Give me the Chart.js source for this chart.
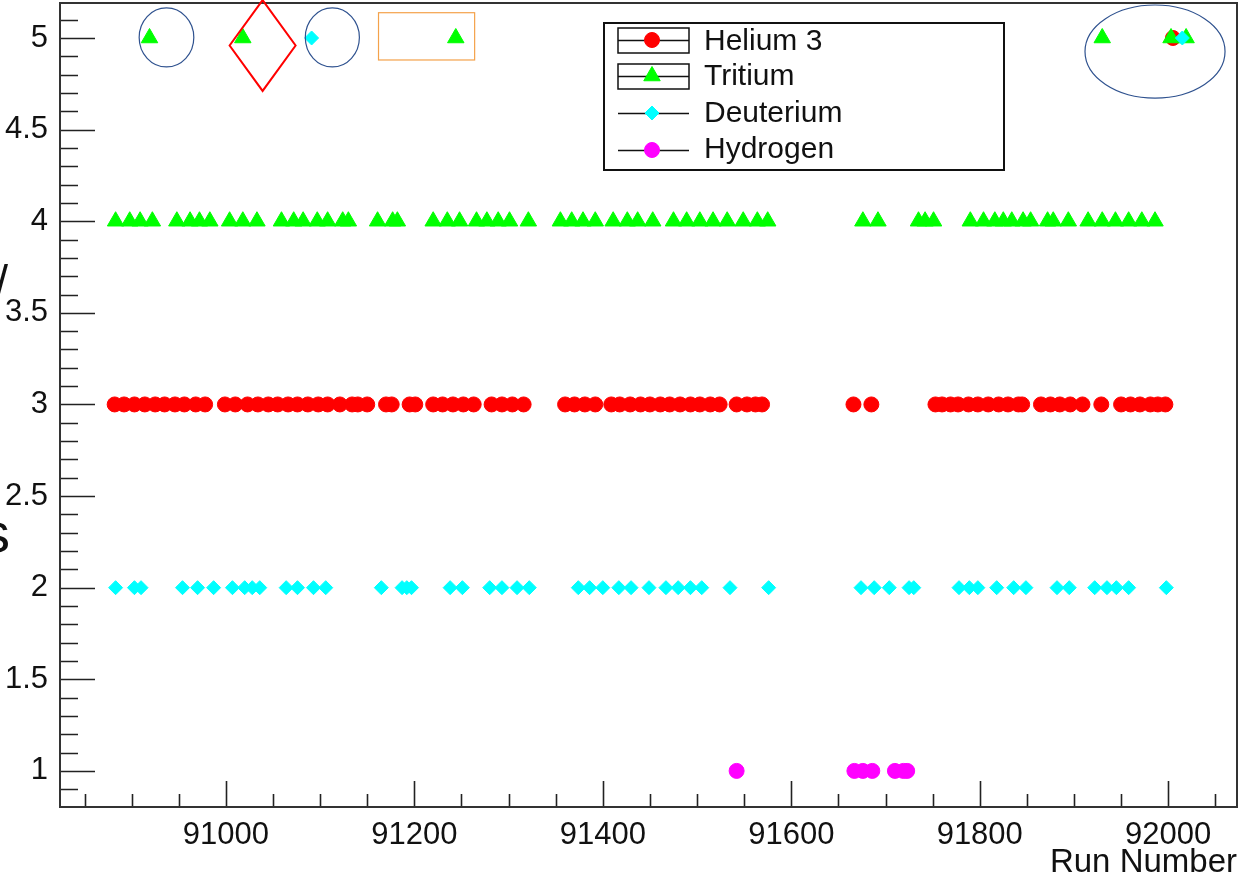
<!DOCTYPE html>
<html>
<head>
<meta charset="utf-8">
<script src="https://cdn.jsdelivr.net/npm/chart.js@4.4.1/dist/chart.umd.min.js"></script>
<style>
  html, body { margin: 0; padding: 0; background: #fff; }
  #wrap { width: 1240px; height: 880px; }
</style>
</head>
<body>
<div id="wrap"><canvas id="c" width="1240" height="880"></canvas></div>
<script>
// run numbers, grouped by the value plotted for each target
const he3RunsAt3 = [
  90882, 90892, 90903, 90914, 90925, 90935, 90946, 90956, 90968, 90978,
  90999, 91010, 91023, 91034, 91045, 91055, 91066, 91076, 91087, 91098, 91108, 91121, 91134, 91140, 91150,
  91170, 91176, 91195, 91201,
  91220, 91230, 91241, 91252, 91263,
  91282, 91293, 91304, 91316,
  91360, 91370, 91381, 91392,
  91409, 91418, 91429, 91440, 91450, 91461, 91471, 91482, 91493, 91503, 91514, 91524,
  91542, 91553, 91562, 91569,
  91666, 91685,
  91753, 91760, 91769, 91777, 91788, 91798, 91809, 91820, 91830, 91841, 91845,
  91865, 91875, 91885, 91896, 91909,
  91929,
  91950, 91960, 91970, 91981, 91989, 91997
];
const he3RunsAt5 = [92005];

const tritiumRunsAt4 = [
  90883, 90898, 90909, 90922, 90948, 90962, 90972, 90983, 91004, 91018, 91033,
  91059, 91072, 91082, 91097, 91108, 91124, 91130, 91161, 91177, 91182,
  91220, 91235, 91248, 91266, 91277, 91289, 91301, 91321,
  91355, 91367, 91379, 91392, 91411, 91426, 91437, 91453,
  91475, 91489, 91503, 91517, 91532, 91549, 91564, 91575,
  91676, 91692, 91735, 91742, 91751,
  91790, 91804, 91816, 91825, 91834, 91846, 91854, 91872, 91878, 91894,
  91915, 91930, 91944, 91958, 91972, 91986
];
const tritiumRunsAt5 = [90919, 91018, 91244, 91930, 92003, 92019];

const deutRunsAt2 = [
  90883, 90903, 90910, 90954, 90970, 90987, 91007, 91020, 91028, 91036,
  91064, 91076, 91093, 91106, 91165, 91187, 91192, 91197, 91238, 91251,
  91280, 91293, 91309, 91322, 91374, 91386, 91400, 91417, 91430, 91449,
  91467, 91480, 91493, 91505, 91535, 91576, 91674, 91688, 91704, 91725, 91730,
  91778, 91789, 91798, 91818, 91836, 91849, 91882, 91895, 91922, 91935,
  91945, 91958, 91998
];
const deutRunsAt5 = [91091, 92015];

const hydRunsAt1 = [91542, 91667, 91676, 91686, 91710, 91719, 91723];

const xTickValues = [91000, 91200, 91400, 91600, 91800, 92000];
const yTickValues = [1, 1.5, 2, 2.5, 3, 3.5, 4, 4.5, 5];

// highlight shapes drawn on top, in data units
const ellipses = [
  { cx: 90937, cy: 5.003, rx: 29, ry: 0.161 },
  { cx: 91113, cy: 5.003, rx: 28.7, ry: 0.161 },
  { cx: 91986, cy: 4.926, rx: 74.3, ry: 0.254 }
];
const diamond = { cx: 91039, cy: 4.959, hw: 35, hh: 0.248 };
const box = { x0: 91162, x1: 91264, y0: 4.88, y1: 5.138 };

const FONT = '"Liberation Sans", Arial, Helvetica, sans-serif';

function pts(runs, val) {
  return runs.map(r => ({ x: r, y: val }));
}

const datasets = [
  { label: 'Helium 3', data: pts(he3RunsAt3, 3).concat(pts(he3RunsAt5, 5)),
    pointStyle: 'circle', radius: 7.5, color: '#ff0000', boxed: true, order: 4 },
  { label: 'Tritium', data: pts(tritiumRunsAt4, 4).concat(pts(tritiumRunsAt5, 5)),
    pointStyle: 'triangle', radius: 9.5, color: '#00ff00', boxed: true, order: 3 },
  { label: 'Deuterium', data: pts(deutRunsAt2, 2).concat(pts(deutRunsAt5, 5)),
    pointStyle: 'rectRot', radius: 7, color: '#00ffff', boxed: false, order: 2 },
  { label: 'Hydrogen', data: pts(hydRunsAt1, 1),
    pointStyle: 'circle', radius: 7.5, color: '#ff00ff', boxed: false, order: 1 }
].map(d => ({
  label: d.label,
  data: d.data,
  order: d.order,
  showLine: false,
  pointStyle: d.pointStyle,
  pointRadius: d.radius,
  pointBackgroundColor: d.color,
  pointBorderColor: d.color,
  pointBorderWidth: 1,
  boxed: d.boxed
}));

// ROOT-like frame with inward major/minor ticks
const frameTicks = {
  id: 'frameTicks',
  afterDatasetsDraw(chart) {
    const { ctx, chartArea: a, scales: { x, y } } = chart;
    ctx.save();
    ctx.strokeStyle = '#222';
    ctx.lineWidth = 1.6;
    ctx.beginPath();
    for (let v = 90850; v <= 92050; v += 50) {
      const px = Math.round(x.getPixelForValue(v)) + 0.5;
      const len = xTickValues.includes(v) ? 26 : 13;
      ctx.moveTo(px, a.bottom);
      ctx.lineTo(px, a.bottom - len);
    }
    for (let i = 9; i <= 51; i++) {
      const v = i / 10;
      const py = Math.round(y.getPixelForValue(v)) + 0.5;
      const len = i % 5 === 0 ? 35 : 18;
      ctx.moveTo(a.left, py);
      ctx.lineTo(a.left + len, py);
    }
    ctx.stroke();
    ctx.lineWidth = 2;
    ctx.strokeStyle = '#333';
    ctx.strokeRect(a.left, a.top, a.right - a.left, a.bottom - a.top);
    ctx.restore();
  }
};

const highlights = {
  id: 'highlights',
  afterDatasetsDraw(chart) {
    const { ctx, scales: { x, y } } = chart;
    ctx.save();
    ctx.lineWidth = 1.2;
    ctx.strokeStyle = '#2f528f';
    ellipses.forEach(e => {
      const cx = x.getPixelForValue(e.cx), cy = y.getPixelForValue(e.cy);
      const rx = x.getPixelForValue(e.cx + e.rx) - cx;
      const ry = cy - y.getPixelForValue(e.cy + e.ry);
      ctx.beginPath();
      ctx.ellipse(cx, cy, rx, ry, 0, 0, Math.PI * 2);
      ctx.stroke();
    });
    ctx.strokeStyle = '#ff0000';
    ctx.lineWidth = 2;
    ctx.beginPath();
    ctx.moveTo(x.getPixelForValue(diamond.cx), y.getPixelForValue(diamond.cy + diamond.hh));
    ctx.lineTo(x.getPixelForValue(diamond.cx + diamond.hw), y.getPixelForValue(diamond.cy));
    ctx.lineTo(x.getPixelForValue(diamond.cx), y.getPixelForValue(diamond.cy - diamond.hh));
    ctx.lineTo(x.getPixelForValue(diamond.cx - diamond.hw), y.getPixelForValue(diamond.cy));
    ctx.closePath();
    ctx.stroke();
    ctx.strokeStyle = '#f4a24a';
    ctx.lineWidth = 1.2;
    const bx = x.getPixelForValue(box.x0), by = y.getPixelForValue(box.y1);
    ctx.strokeRect(bx, by, x.getPixelForValue(box.x1) - bx, y.getPixelForValue(box.y0) - by);
    ctx.restore();
  }
};

const legendBox = {
  id: 'legendBox',
  afterDraw(chart) {
    const ctx = chart.ctx;
    const L = 604, T = 23, W = 400, H = 147;
    const rows = [40, 76, 113, 150];
    const base = [50, 85, 122, 158];
    ctx.save();
    ctx.fillStyle = '#fff';
    ctx.fillRect(L, T, W, H);
    ctx.strokeStyle = '#111';
    ctx.lineWidth = 2;
    ctx.strokeRect(L, T, W, H);
    chart.data.datasets.forEach((ds, i) => {
      const cy = rows[i];
      ctx.strokeStyle = '#111';
      ctx.lineWidth = 1.5;
      if (ds.boxed) ctx.strokeRect(618, cy - 12, 71, 25);
      ctx.beginPath();
      ctx.moveTo(618, cy + 0.5);
      ctx.lineTo(689, cy + 0.5);
      ctx.stroke();
      ctx.fillStyle = ds.pointBackgroundColor;
      ctx.strokeStyle = ds.pointBorderColor;
      ctx.lineWidth = 1;
      Chart.helpers.drawPoint(ctx, {
        pointStyle: ds.pointStyle, radius: ds.pointRadius, rotation: 0, borderWidth: 1
      }, 652, cy);
      ctx.fillStyle = '#111';
      ctx.font = '30px ' + FONT;
      ctx.textAlign = 'left';
      ctx.textBaseline = 'alphabetic';
      ctx.fillText(ds.label, 704, base[i]);
    });
    ctx.restore();
  }
};

// fragments of text cut off at the left edge of the picture
const edgeText = {
  id: 'edgeText',
  afterDraw(chart) {
    const ctx = chart.ctx;
    ctx.save();
    ctx.fillStyle = '#111';
    ctx.textAlign = 'right';
    ctx.textBaseline = 'alphabetic';
    ctx.font = '46px ' + FONT;
    ctx.fillText('/', 8, 298);
    ctx.font = '56px ' + FONT;
    ctx.fillText('s', 10, 552);
    ctx.restore();
  }
};

new Chart(document.getElementById('c'), {
  type: 'scatter',
  data: { datasets },
  options: {
    responsive: false,
    animation: false,
    devicePixelRatio: 1,
    layout: { autoPadding: false, padding: { top: 3, right: 3, left: 0, bottom: 0 } },
    plugins: { legend: { display: false }, tooltip: { enabled: false } },
    scales: {
      x: {
        type: 'linear',
        min: 90824,
        max: 92073,
        grid: { display: false, drawTicks: false },
        border: { display: false },
        afterBuildTicks: s => { s.ticks = xTickValues.map(v => ({ value: v })); },
        afterFit: s => { s.height = 73; s.paddingLeft = 0; s.paddingRight = 0; },
        ticks: {
          font: { family: FONT, size: 31 },
          color: '#111',
          padding: 10,
          maxRotation: 0,
          autoSkip: false,
          callback: v => String(v)
        },
        title: {
          display: true,
          text: 'Run Number',
          align: 'end',
          color: '#111',
          font: { family: FONT, size: 33, lineHeight: 1.05 },
          padding: { top: 0, bottom: 0 }
        }
      },
      y: {
        type: 'linear',
        min: 0.803,
        max: 5.191,
        grid: { display: false, drawTicks: false },
        border: { display: false },
        afterBuildTicks: s => { s.ticks = yTickValues.map(v => ({ value: v })); },
        afterFit: s => { s.width = 60; s.paddingTop = 0; s.paddingBottom = 0; },
        ticks: {
          font: { family: FONT, size: 31 },
          color: '#111',
          padding: 12,
          autoSkip: false,
          callback: v => String(v)
        }
      }
    }
  },
  plugins: [frameTicks, highlights, legendBox, edgeText]
});
</script>
</body>
</html>
